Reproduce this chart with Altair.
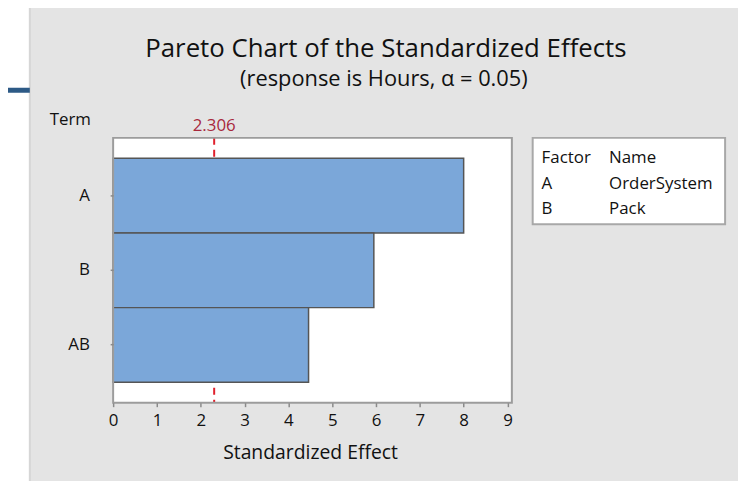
import altair as alt
import pandas as pd

# ---- data ----
terms = ["A", "B", "AB"]
effects = [8.0, 5.95, 4.46]
critical_value = 2.306
x_ticks = [0, 1, 2, 3, 4, 5, 6, 7, 8, 9]
legend_factors = ["A", "B"]
legend_names = ["OrderSystem", "Pack"]
title_text = "Pareto Chart of the Standardized Effects"
subtitle_text = "(response is Hours, \u03b1 = 0.05)"
x_title = "Standardized Effect"
y_title = "Term"

FONT = "Open Sans"
TXT = "#111111"
W, H = 402, 267

bars_df = pd.DataFrame({"Term": terms, "Effect": effects})
crit_df = pd.DataFrame({"crit": [critical_value], "label": [f"{critical_value:.3f}"]})
one = pd.DataFrame({"d": [0]})

x_scale = alt.Scale(domain=[0, 9.1], nice=False, zero=True)
y_scale = alt.Scale(domain=terms, paddingInner=0, paddingOuter=0.273)

# decorative background panel
panel = alt.Chart(one).mark_rect(fill="#e4e4e4", stroke="#d6d6d6", strokeWidth=2).encode(
    x=alt.value(-84), x2=alt.value(640), y=alt.value(-135), y2=alt.value(350)
)
blue_line = alt.Chart(one).mark_rule(color="#2d5a86", strokeWidth=5).encode(
    x=alt.value(-120), x2=alt.value(-84), y=alt.value(-48)
)
plot_bg = alt.Chart(one).mark_rect(fill="white").encode(
    x=alt.value(0), x2=alt.value(W), y=alt.value(0), y2=alt.value(H)
)
plot_frame = alt.Chart(one).mark_rect(fill=None, stroke="#9c9c9c", strokeWidth=2).encode(
    x=alt.value(0), x2=alt.value(W), y=alt.value(0), y2=alt.value(H)
)

rule = alt.Chart(crit_df).mark_rule(color="#e0202c", strokeWidth=2, strokeDash=[7, 5]).encode(
    x=alt.X("crit:Q", scale=x_scale),
    y=alt.value(0), y2=alt.value(H),
)
crit_label = alt.Chart(crit_df).mark_text(
    font=FONT, fontSize=17, color="#a8283c", baseline="alphabetic", align="center"
).encode(
    x=alt.X("crit:Q", scale=x_scale), y=alt.value(-7), text="label:N"
)

bars = alt.Chart(bars_df).mark_bar(
    color="#7ba7d9", stroke="#555555", strokeWidth=1.5
).encode(
    x=alt.X(
        "Effect:Q", scale=x_scale,
        axis=alt.Axis(
            values=x_ticks, title=None, domain=False, grid=False, labelFlush=False,
            tickSize=4, tickColor="#8a8a8a", tickWidth=1.5,
            labelFont=FONT, labelFontSize=17, labelColor=TXT, labelPadding=6,
            zindex=1,
        ),
    ),
    y=alt.Y(
        "Term:N", scale=y_scale, sort=terms,
        axis=alt.Axis(
            title=None, domain=False, grid=False,
            tickSize=3, tickColor="#8a8a8a", tickWidth=1.5,
            labelFont=FONT, labelFontSize=17, labelColor=TXT, labelPadding=21,
            zindex=1,
        ),
    ),
)

def txt(text, x, y, size, align="center", color=TXT):
    return alt.Chart(one).mark_text(
        font=FONT, fontSize=size, color=color, align=align, baseline="alphabetic"
    ).encode(x=alt.value(x), y=alt.value(y), text=alt.value(text))

title = txt(title_text, 275, -82, 26)
subtitle = txt(subtitle_text, 273, -52, 22)
xt = txt(x_title, 199, 324, 19.5)
yt = txt(y_title, -64, -13, 17, align="left")

legend_box = alt.Chart(one).mark_rect(fill="white", stroke="#a8a8a8", strokeWidth=2).encode(
    x=alt.value(423), x2=alt.value(617), y=alt.value(0), y2=alt.value(87)
)
legend_layers = [legend_box, txt("Factor", 432, 25, 17, align="left"), txt("Name", 500, 25, 17, align="left")]
for i, (f, n) in enumerate(zip(legend_factors, legend_names)):
    yy = 52 + 25 * i
    legend_layers.append(txt(f, 432, yy, 17, align="left"))
    legend_layers.append(txt(n, 500, yy, 17, align="left"))

chart = alt.layer(
    panel, blue_line, plot_bg, rule, bars, plot_frame, crit_label,
    title, subtitle, xt, yt, *legend_layers
).properties(
    width=W, height=H,
    autosize=alt.AutoSizeParams(type="none"),
    padding={"left": 106, "top": 129, "right": 228, "bottom": 77},
).configure_view(stroke=None)

chart.save("out.html", embed_options={"renderer": "svg", "actions": False})
